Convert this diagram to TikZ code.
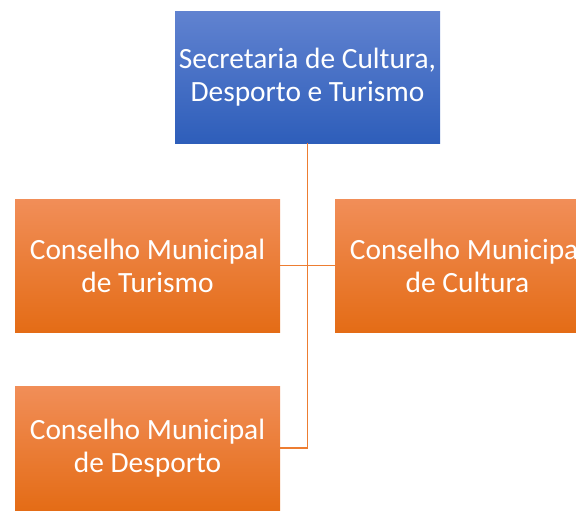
\documentclass[tikz,border=0pt]{standalone}
\usepackage{fontspec}
\setmainfont{Carlito}
\definecolor{boxblueA}{RGB}{96,130,208}
\definecolor{boxblueB}{RGB}{46,94,186}
\definecolor{boxorangeA}{RGB}{241,142,88}
\definecolor{boxorangeB}{RGB}{228,108,22}
\definecolor{lineorange}{RGB}{237,125,49}
\begin{document}
\begin{tikzpicture}[x=1pt, y=-1pt,
    secbox/.style={rectangle, minimum width=265pt, minimum height=131pt, top color=boxblueA, bottom color=boxblueB, text=white, align=center, font=\fontsize{29.4}{33}\selectfont, inner sep=0pt},
    consbox/.style={rectangle, minimum width=265pt, minimum height=133pt, top color=boxorangeA, bottom color=boxorangeB, text=white, align=center, font=\fontsize{29.4}{33}\selectfont, inner sep=0pt},
    conn/.style={draw=lineorange, line width=1.4pt}]
    \path[use as bounding box, clip] (0,0) rectangle (576,511);

    \node[secbox] (secretaria) at (307.5,77.5) {Secretaria de Cultura,\\Desporto e Turismo};
    \node[consbox] (turismo) at (147.5,265.5) {Conselho Municipal\\de Turismo};
    \node[consbox] (cultura) at (467.5,265.5) {Conselho Municipal\\de Cultura};
    \node[consbox, minimum height=124pt] (desporto) at (147.5,448) {Conselho Municipal\\de Desporto};

    \draw[conn] (secretaria.south) -- (secretaria.south |- desporto.east) -- (desporto.east);
    \draw[conn] (turismo.east) -- (cultura.west);
\end{tikzpicture}
\end{document}
